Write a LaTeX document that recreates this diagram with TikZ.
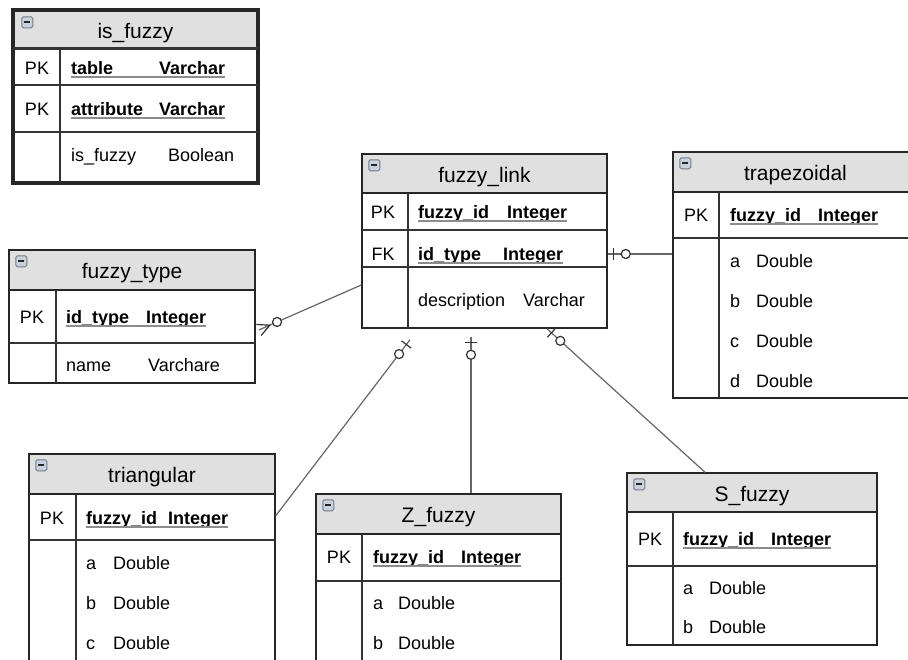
\documentclass[tikz,border=0pt]{standalone}
\usepackage{fontspec}
\setmainfont{Liberation Sans}
\usetikzlibrary{calc,fit}

\definecolor{headgray}{HTML}{E0E0E0}
\definecolor{togfill}{HTML}{C9D1DD}
\definecolor{togline}{HTML}{6F7B8B}

% bar + ring at the end #1 of a link that runs towards #2
\newcommand{\zeroone}[2]{%
  \path ($(#1)!6pt!(#2)$) coordinate (zo-bar);
  \draw[relmark] ($(zo-bar)!6pt!90:(#2)$) -- ($(zo-bar)!6pt!-90:(#2)$);
  \node[relring] at ($(#1)!18pt!(#2)$) {};}

\begin{document}
\begin{tikzpicture}[x=1pt,y=-1pt,
    tblbox/.style={draw=black!85, line width=1.5pt, inner sep=0pt},
    tblhead/.style={tblbox, fill=headgray},
    tbltitle/.style={anchor=base, inner sep=0pt, font=\fontsize{21}{25}\selectfont},
    tblrule/.style={draw=black!80, line width=1.5pt},
    keytag/.style={anchor=base, inner sep=0pt, font=\fontsize{18}{22}\selectfont},
    fieldtxt/.style={anchor=base west, inner sep=0pt, font=\fontsize{18}{22}\selectfont},
    keyfield/.style={fieldtxt, font=\fontsize{18}{22}\selectfont\bfseries},
    keyline/.style={draw=black!45, line width=1.5pt},
    togbox/.style={rectangle, rounded corners=1.5pt, draw=togline, fill=togfill,
      line width=1pt, minimum size=11pt, inner sep=0pt, anchor=north west,
      path picture={\draw[black!85, line width=1.6pt]
        ([xshift=2.5pt]path picture bounding box.west) --
        ([xshift=-2.5pt]path picture bounding box.east);}},
    relline/.style={draw=black!60, line width=1.2pt},
    relmark/.style={draw=black!80, line width=1.2pt},
    relring/.style={circle, draw=black!80, fill=white, line width=1.2pt,
      inner sep=0pt, minimum size=9pt}]

    \fill[white] (0,0) rectangle (908,659);
    \useasboundingbox (0,0) rectangle (908,659);
    \clip (0,0) rectangle (908,659);

    % is_fuzzy
    \node[tblhead, fit={(13,10) (258,48)}] (isf-head) {};
    \node[tblbox, line width=3.5pt, fit={(13,10) (258,183)}] (isf) {};
    \draw[tblrule, line width=3pt] (13,48) -- (258,48);
    \draw[tblrule, line width=2pt] (13,85) -- (258,85) (13,132) -- (258,132) (60,48) -- (60,183);
    \node[togbox] at ([xshift=9pt,yshift=-7pt]isf-head.north west) {};
    \node[tbltitle] at ([yshift=-9pt]isf-head.center) {is\_fuzzy};
    \node[keytag] at (37,74) {PK};
    \node[keyfield] (isf-f1) at (71,74) {table};
    \node[keyfield] (isf-t1) at (159,74) {Varchar};
    \draw[keyline] ([yshift=-3pt]isf-f1.base west) -- ([yshift=-3pt]isf-t1.base east);
    \node[keytag] at (37,115) {PK};
    \node[keyfield] (isf-f2) at (71,115) {attribute};
    \node[keyfield] (isf-t2) at (159,115) {Varchar};
    \draw[keyline] ([yshift=-3pt]isf-f2.base west) -- ([yshift=-3pt]isf-t2.base east);
    \node[fieldtxt] at (71,161) {is\_fuzzy};
    \node[fieldtxt] at (168,161) {Boolean};

    % fuzzy_type
    \node[tblhead, fit={(9,250) (255,290)}] (ftype-head) {};
    \node[tblbox, fit={(9,250) (255,383)}] (ftype) {};
    \draw[tblrule] (9,343) -- (255,343) (56,290) -- (56,383);
    \node[togbox] at ([xshift=7pt,yshift=-6pt]ftype-head.north west) {};
    \node[tbltitle] at ([yshift=-8.5pt]ftype-head.center) {fuzzy\_type};
    \node[keytag] at (32,323) {PK};
    \node[keyfield] (ft-f1) at (66,323) {id\_type};
    \node[keyfield] (ft-t1) at (146,323) {Integer};
    \draw[keyline] ([yshift=-3pt]ft-f1.base west) -- ([yshift=-3pt]ft-t1.base east);
    \node[fieldtxt] at (66,371) {name};
    \node[fieldtxt] at (148,371) {Varchare};

    % fuzzy_link
    \node[tblhead, fit={(362,154) (607,193)}] (flink-head) {};
    \node[tblbox, fit={(362,154) (607,328)}] (flink) {};
    \draw[tblrule] (362,230) -- (607,230) (362,267) -- (607,267) (408,193) -- (408,328);
    \node[togbox] at ([xshift=7pt,yshift=-6pt]flink-head.north west) {};
    \node[tbltitle] at ([yshift=-8.5pt]flink-head.center) {fuzzy\_link};
    \node[keytag] at (383,218) {PK};
    \node[keyfield] (fl-f1) at (418,218) {fuzzy\_id};
    \node[keyfield] (fl-t1) at (507,218) {Integer};
    \draw[keyline] ([yshift=-3pt]fl-f1.base west) -- ([yshift=-3pt]fl-t1.base east);
    \node[keytag] at (383,260) {FK};
    \node[keyfield] (fl-f2) at (418,260) {id\_type};
    \node[keyfield] (fl-t2) at (503,260) {Integer};
    \draw[keyline] ([yshift=-3pt]fl-f2.base west) -- ([yshift=-3pt]fl-t2.base east);
    \node[fieldtxt] at (418,306) {description};
    \node[fieldtxt] at (523,306) {Varchar};

    % trapezoidal
    \node[tblhead, fit={(673,152) (918,192)}] (trap-head) {};
    \node[tblbox, fit={(673,152) (918,398)}] (trap) {};
    \draw[tblrule] (673,238) -- (918,238) (719,192) -- (719,398);
    \node[togbox] at ([xshift=7pt,yshift=-6pt]trap-head.north west) {};
    \node[tbltitle] at ([yshift=-8.5pt]trap-head.center) {trapezoidal};
    \node[keytag] at (696,221) {PK};
    \node[keyfield] (tz-f1) at (730,221) {fuzzy\_id};
    \node[keyfield] (tz-t1) at (818,221) {Integer};
    \draw[keyline] ([yshift=-3pt]tz-f1.base west) -- ([yshift=-3pt]tz-t1.base east);
    \node[fieldtxt] at (730,267) {a};
    \node[fieldtxt] at (756,267) {Double};
    \node[fieldtxt] at (730,307) {b};
    \node[fieldtxt] at (756,307) {Double};
    \node[fieldtxt] at (730,347) {c};
    \node[fieldtxt] at (756,347) {Double};
    \node[fieldtxt] at (730,387) {d};
    \node[fieldtxt] at (756,387) {Double};

    % triangular
    \node[tblhead, fit={(29,454) (275,494)}] (tri-head) {};
    \node[tblbox, fit={(29,454) (275,690)}] (tri) {};
    \draw[tblrule] (29,540) -- (275,540) (76,494) -- (76,690);
    \node[togbox] at ([xshift=7pt,yshift=-6pt]tri-head.north west) {};
    \node[tbltitle] at ([yshift=-8.5pt]tri-head.center) {triangular};
    \node[keytag] at (52,524) {PK};
    \node[keyfield] (tr-f1) at (86,524) {fuzzy\_id};
    \node[keyfield] (tr-t1) at (168,524) {Integer};
    \draw[keyline] ([yshift=-3pt]tr-f1.base west) -- ([yshift=-3pt]tr-t1.base east);
    \node[fieldtxt] at (86,569) {a};
    \node[fieldtxt] at (113,569) {Double};
    \node[fieldtxt] at (86,609) {b};
    \node[fieldtxt] at (113,609) {Double};
    \node[fieldtxt] at (86,649) {c};
    \node[fieldtxt] at (113,649) {Double};

    % Z_fuzzy
    \node[tblhead, fit={(316,494) (561,534)}] (zfz-head) {};
    \node[tblbox, fit={(316,494) (561,690)}] (zfz) {};
    \draw[tblrule] (316,581) -- (561,581) (362,534) -- (362,690);
    \node[togbox] at ([xshift=7pt,yshift=-6pt]zfz-head.north west) {};
    \node[tbltitle] at ([yshift=-8.5pt]zfz-head.center) {Z\_fuzzy};
    \node[keytag] at (339,563) {PK};
    \node[keyfield] (zf-f1) at (373,563) {fuzzy\_id};
    \node[keyfield] (zf-t1) at (461,563) {Integer};
    \draw[keyline] ([yshift=-3pt]zf-f1.base west) -- ([yshift=-3pt]zf-t1.base east);
    \node[fieldtxt] at (373,609) {a};
    \node[fieldtxt] at (398,609) {Double};
    \node[fieldtxt] at (373,649) {b};
    \node[fieldtxt] at (398,649) {Double};

    % S_fuzzy
    \node[tblhead, fit={(627,473) (877,512)}] (sfz-head) {};
    \node[tblbox, fit={(627,473) (877,645)}] (sfz) {};
    \draw[tblrule] (627,566) -- (877,566) (673,512) -- (673,645);
    \node[togbox] at ([xshift=7pt,yshift=-6pt]sfz-head.north west) {};
    \node[tbltitle] at ([yshift=-8.5pt]sfz-head.center) {S\_fuzzy};
    \node[keytag] at (650,545) {PK};
    \node[keyfield] (sf-f1) at (683,545) {fuzzy\_id};
    \node[keyfield] (sf-t1) at (771,545) {Integer};
    \draw[keyline] ([yshift=-3pt]sf-f1.base west) -- ([yshift=-3pt]sf-t1.base east);
    \node[fieldtxt] at (683,594) {a};
    \node[fieldtxt] at (709,594) {Double};
    \node[fieldtxt] at (683,633) {b};
    \node[fieldtxt] at (709,633) {Double};

    % links
    % fuzzy_type -- fuzzy_link
    \coordinate (ft-end) at ([xshift=3pt,yshift=-13.5pt]ftype.east);
    \coordinate (fl-west) at ([yshift=-44pt]flink.west);
    \draw[relline] (ft-end) -- (fl-west);
    \draw[relmark] ($(ft-end)!6pt!90:(fl-west)$) -- ($(ft-end)!12pt!(fl-west)$)
      -- ($(ft-end)!6pt!-90:(fl-west)$);
    \node[relring] at ($(ft-end)!20pt!(fl-west)$) {};
    % fuzzy_link -- trapezoidal
    \coordinate (fl-east) at ([yshift=-13pt]flink.east);
    \coordinate (tz-in) at (fl-east -| trap.west);
    \draw[relline] (fl-east) -- (tz-in);
    \zeroone{fl-east}{tz-in}
    % fuzzy_link -- triangular
    \coordinate (fl-tri) at ([xshift=-74.5pt,yshift=-11pt]flink.south);
    \coordinate (tri-in) at ([yshift=-21pt]tri-head.south east);
    \draw[relline] (tri-in) -- (fl-tri);
    \zeroone{fl-tri}{tri-in}
    % fuzzy_link -- Z_fuzzy
    \coordinate (fl-z) at ([xshift=-13.5pt,yshift=-8pt]flink.south);
    \coordinate (z-in) at (fl-z |- zfz-head.north);
    \draw[relline] (z-in) -- (fl-z);
    \zeroone{fl-z}{z-in}
    % fuzzy_link -- S_fuzzy
    \coordinate (fl-s) at ([xshift=62.5pt]flink.south);
    \coordinate (s-in) at ([xshift=-47pt]sfz-head.north);
    \draw[relline] (s-in) -- (fl-s);
    \zeroone{fl-s}{s-in}
\end{tikzpicture}
\end{document}
